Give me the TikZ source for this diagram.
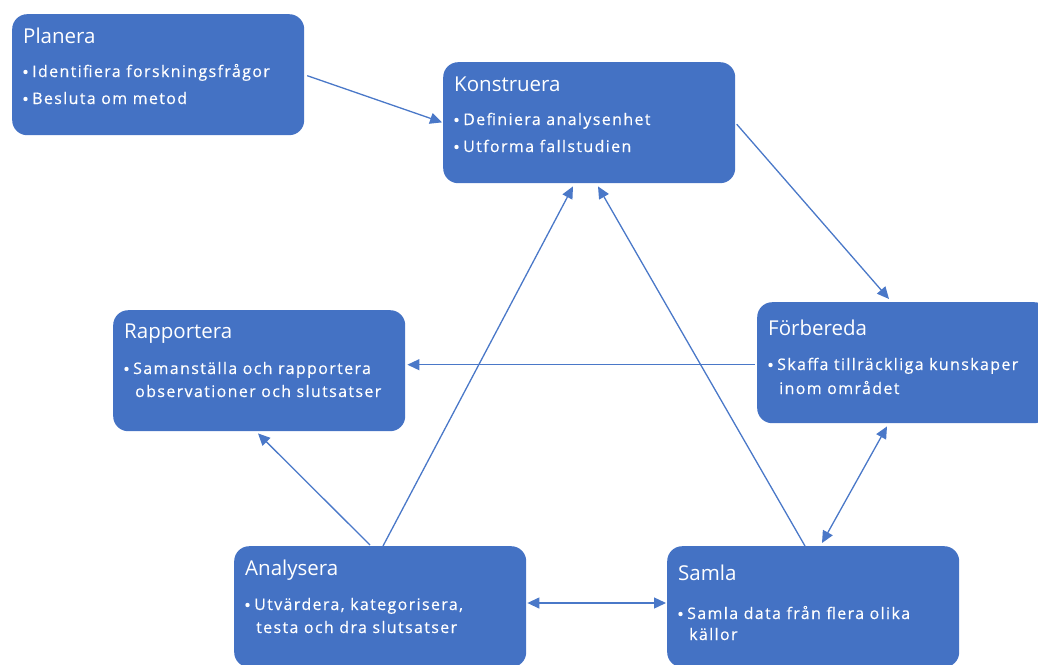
\documentclass[tikz,border=0pt]{standalone}
\usepackage{fontspec}
\setmainfont{Open Sans}
\newfontfamily\itemfont[LetterSpace=8.5, FakeBold=0.4]{Open Sans}
\usetikzlibrary{arrows.meta,calc}
\definecolor{boxblue}{HTML}{4472C4}
\definecolor{linkblue}{HTML}{4A78C8}
\tikzset{
  x=1pt, y=-1pt,
  stagebox/.style={fill=boxblue, rounded corners=15pt, minimum width=292pt,
    minimum height=121pt, inner sep=0pt, anchor=north west},
  stagetitle/.style={anchor=base west, inner sep=0pt, text=white,
    font=\fontsize{20.5}{24}\selectfont},
  stageitem/.style={anchor=base west, inner sep=0pt, text=white,
    font=\itemfont\fontsize{16}{18}\selectfont},
  flow/.style={draw=linkblue, line width=1.3pt, -{Triangle[length=12pt,width=11pt]}},
  twoway/.style={draw=linkblue, line width=1.3pt,
    {Triangle[length=12pt,width=11pt]}-{Triangle[length=12pt,width=11pt]}},
}
% bullet line: box, node name, baseline offset, text
\newcommand\bulletline[4]{%
  \fill[white] ($(#1.north west)+(13.5,#3-5)$) circle (2.2pt);
  \node[stageitem] (#2) at ($(#1.north west)+(20,#3)$) {#4};}
% wrapped continuation line
\newcommand\moreline[4]{%
  \node[stageitem] (#2) at ($(#1.north west)+(22,#3)$) {#4};}
% stage title
\newcommand\stagehead[4]{%
  \node[stagetitle] (#2) at ($(#1.north west)+(11,#3)$) {#4};}

\begin{document}
\begin{tikzpicture}
\useasboundingbox (0,0) rectangle (1038,664);

% boxes
\node[stagebox] (plan) at (12,14) {};
\node[stagebox] (kons) at (443,62) {};
\node[stagebox] (forb) at (757,302) {};
\node[stagebox] (rapp) at (113,310) {};
\node[stagebox] (anal) at (234,546) {};
\node[stagebox] (saml) at (667,546) {};

% texts
\stagehead{plan}{plan-t}{29}{Planera}
\bulletline{plan}{plan-1}{63}{Identifiera forskningsfrågor}
\bulletline{plan}{plan-2}{90}{Besluta om metod}

\stagehead{kons}{kons-t}{29}{Konstruera}
\bulletline{kons}{kons-1}{63}{Definiera analysenhet}
\bulletline{kons}{kons-2}{90}{Utforma fallstudien}

\stagehead{forb}{forb-t}{33}{Förbereda}
\bulletline{forb}{forb-1}{68}{Skaffa tillräckliga kunskaper}
\moreline{forb}{forb-2}{92}{inom området}

\stagehead{rapp}{rapp-t}{28}{Rapportera}
\bulletline{rapp}{rapp-1}{64}{Samanställa och rapportera}
\moreline{rapp}{rapp-2}{87}{observationer och slutsatser}

\stagehead{anal}{anal-t}{29}{Analysera}
\bulletline{anal}{anal-1}{64}{Utvärdera, kategorisera,}
\moreline{anal}{anal-2}{87}{testa och dra slutsatser}

\stagehead{saml}{saml-t}{34}{Samla}
\bulletline{saml}{saml-1}{73}{Samla data från flera olika}
\moreline{saml}{saml-2}{94}{källor}

% connectors
\draw[flow, shorten <=3pt, shorten >=1pt] (plan.east) -- (kons.west);
\draw[flow, shorten <=2pt] (kons.east) -- ($(forb.north west)+(132,-3)$);
\coordinate (forb-out) at ($(forb.west)+(-2,2)$);
\draw[flow, shorten >=2pt] (forb-out) -- (forb-out -| rapp.east);
\draw[twoway] ($(forb.south west)+(130,3)$) -- ($(saml.north west)+(155,-3)$);
\draw[twoway] ($(anal.north east)+(1,57)$) -- ($(saml.north west)+(-1,57)$);
\draw[flow] ($(anal.north west)+(136,-1)$) -- ($(rapp.south west)+(145,2)$);
\draw[flow] ($(anal.north west)+(149,0)$) -- ($(kons.south west)+(130,3)$);
\draw[flow] ($(saml.north west)+(138,0)$) -- ($(kons.south west)+(155,3)$);
\end{tikzpicture}
\end{document}
